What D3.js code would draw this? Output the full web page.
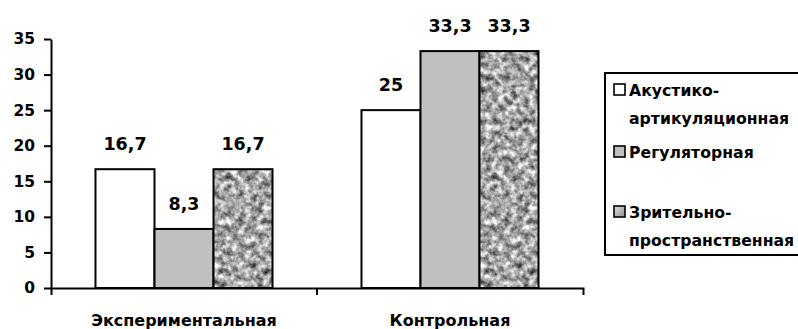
<!DOCTYPE html>
<html>
<head>
<meta charset="utf-8">
<script src="https://cdn.jsdelivr.net/npm/d3@7/dist/d3.min.js"></script>
<style>
  html, body { margin: 0; padding: 0; background: #fff; }
  svg { display: block; }
  text { font-family: "DejaVu Sans", sans-serif; font-weight: bold; fill: #000; }
</style>
</head>
<body>
<svg id="chart" width="798" height="329"></svg>
<script>
// ---- data ----
const categories = ["Экспериментальная", "Контрольная"];
const seriesNames = ["Акустико-артикуляционная", "Регуляторная", "Зрительно-пространственная"];
const acousticValues = [16.7, 25];
const regulatoryValues = [8.3, 33.3];
const visualValues = [16.7, 33.3];
const valueLabels = [["16,7", "25"], ["8,3", "33,3"], ["16,7", "33,3"]];
const yTicks = [0, 5, 10, 15, 20, 25, 30, 35];
const legendLines = [["Акустико-", "артикуляционная"], ["Регуляторная"], ["Зрительно-", "пространственная"]];

const seriesValues = [acousticValues, regulatoryValues, visualValues];

const svg = d3.select("#chart");
const defs = svg.append("defs");

// noise texture filter for the third series
const f = defs.append("filter").attr("id", "noise")
  .attr("x", 0).attr("y", 0).attr("width", 1).attr("height", 1)
  .attr("color-interpolation-filters", "sRGB");
f.append("feTurbulence").attr("type", "fractalNoise")
  .attr("baseFrequency", 0.16).attr("numOctaves", 3).attr("seed", 7).attr("result", "t");
f.append("feColorMatrix").attr("in", "t").attr("type", "matrix")
  .attr("values", "1.25 0 0 0 0.02  1.25 0 0 0 0.02  1.25 0 0 0 0.02  0 0 0 0 1").attr("result", "g");
f.append("feComposite").attr("in", "g").attr("in2", "SourceGraphic").attr("operator", "in");

const grad = defs.append("linearGradient").attr("id", "lgGrad")
  .attr("x1", 0).attr("y1", 0).attr("x2", 1).attr("y2", 1);
grad.append("stop").attr("offset", 0).attr("stop-color", "#e4e4e4");
grad.append("stop").attr("offset", 1).attr("stop-color", "#8a8a8a");

const fills = ["#ffffff", "#c0c0c0", "noise"];
const legendFills = ["#ffffff", "#c0c0c0", "url(#lgGrad)"];

// ---- scales ----
const x0 = d3.scaleBand().domain(categories).range([51, 583]).paddingInner(0).paddingOuter(0);
const x1 = d3.scaleBand().domain(d3.range(seriesNames.length)).range([0, x0.bandwidth()])
  .paddingInner(0).paddingOuter(0.754);
const y = d3.scaleLinear().domain([0, 35]).range([288, 39]);

// ---- bars ----
const groups = svg.append("g").selectAll("g").data(categories).join("g")
  .attr("transform", d => `translate(${x0(d)},0)`);

groups.each(function(cat, ci) {
  const g = d3.select(this);
  seriesValues.forEach((vals, si) => {
    const bx = x1(si), bw = x1.bandwidth(), by = y(vals[ci]), bh = y(0) - y(vals[ci]);
    if (fills[si] === "noise") {
      g.append("rect").attr("x", bx).attr("y", by).attr("width", bw).attr("height", bh)
        .attr("fill", "#999").attr("filter", "url(#noise)");
      g.append("rect").attr("x", bx).attr("y", by).attr("width", bw).attr("height", bh)
        .attr("fill", "none").attr("stroke", "#000").attr("stroke-width", 2);
    } else {
      g.append("rect").attr("x", bx).attr("y", by).attr("width", bw).attr("height", bh)
        .attr("fill", fills[si]).attr("stroke", "#000").attr("stroke-width", 2);
    }
    g.append("text").attr("x", bx + bw / 2).attr("y", by - 19)
      .attr("text-anchor", "middle").attr("font-size", 17.5)
      .text(valueLabels[si][ci]);
  });
});

// ---- y axis ----
const yAxis = svg.append("g").attr("transform", "translate(51,0)")
  .call(d3.axisLeft(y).tickValues(yTicks).tickSize(7).tickSizeOuter(0).tickPadding(9).tickFormat(d3.format("d")));
yAxis.select(".domain").attr("stroke", "#000").attr("stroke-width", 2);
yAxis.selectAll(".tick line").attr("stroke", "#000").attr("stroke-width", 2);
yAxis.selectAll(".tick text").attr("font-size", 15.5).attr("font-family", "DejaVu Sans").attr("font-weight", "bold").attr("fill", "#000");

// ---- x axis ----
const xAxis = svg.append("g").attr("transform", "translate(0,288)")
  .call(d3.axisBottom(x0).tickSize(0).tickSizeOuter(7).tickPadding(27));
xAxis.select(".domain").attr("stroke", "#000").attr("stroke-width", 2);
xAxis.selectAll(".tick text").attr("font-size", 16).attr("font-family", "DejaVu Sans").attr("font-weight", "bold").attr("fill", "#000");
const boundaries = categories.slice(1).map(c => x0(c));
xAxis.selectAll("line.boundary").data(boundaries).join("line").attr("class", "boundary")
  .attr("x1", d => d).attr("x2", d => d).attr("y1", 0).attr("y2", 7)
  .attr("stroke", "#000").attr("stroke-width", 2);

// ---- legend ----
const lg = svg.append("g");
lg.append("rect").attr("x", 605).attr("y", 73).attr("width", 200).attr("height", 182)
  .attr("fill", "#fff").attr("stroke", "#000").attr("stroke-width", 2);
const legendY = [96, 158, 218];
legendLines.forEach((lines, i) => {
  lg.append("rect").attr("x", 614).attr("y", legendY[i] - 12).attr("width", 11).attr("height", 11)
    .attr("fill", legendFills[i]).attr("stroke", "#000").attr("stroke-width", 1.6);
  lines.forEach((ln, j) => {
    lg.append("text").attr("x", 629).attr("y", legendY[i] + j * 28)
      .attr("font-size", 15.7).text(ln);
  });
});
</script>
</body>
</html>
